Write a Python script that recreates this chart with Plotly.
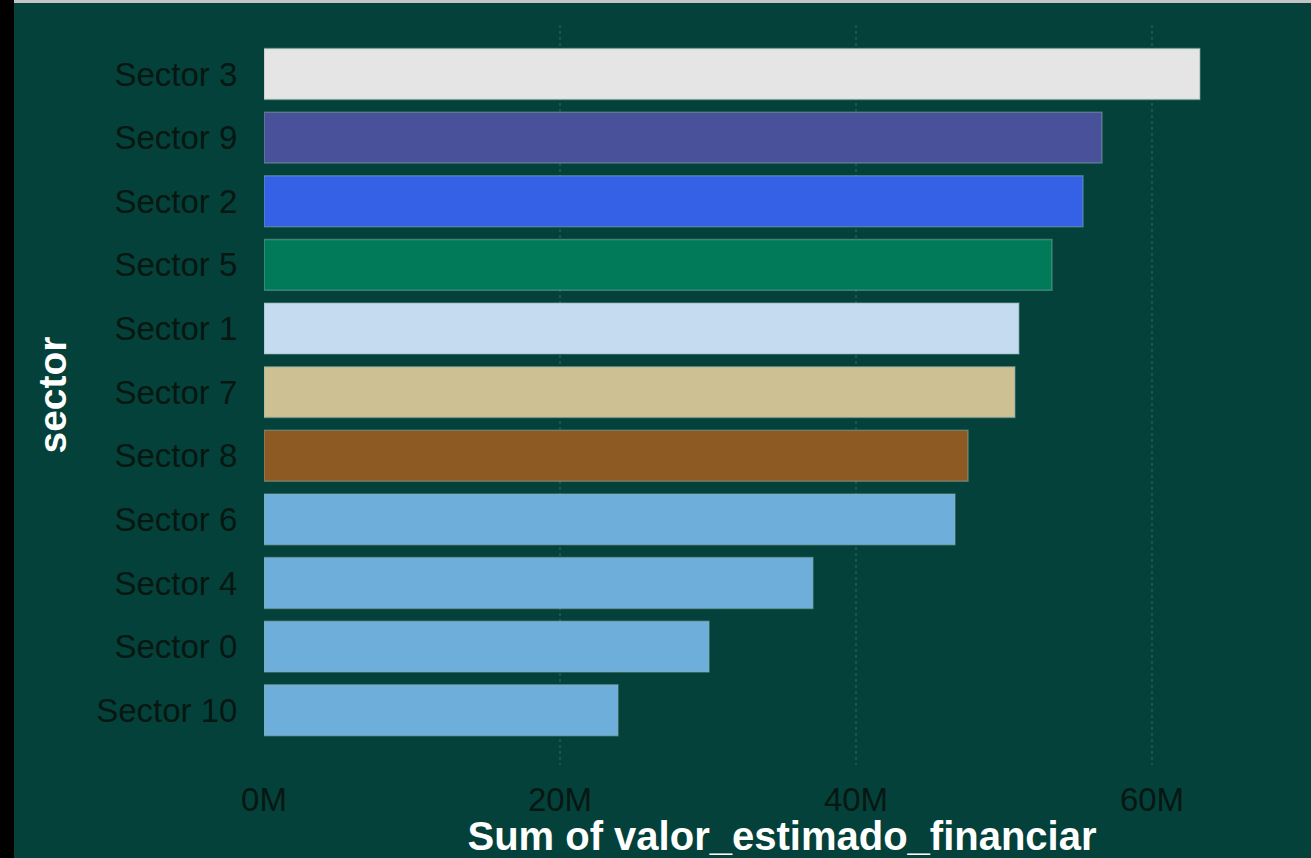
import plotly.graph_objects as go

sectors = ["Sector 10", "Sector 0", "Sector 4", "Sector 6", "Sector 8", "Sector 7",
           "Sector 1", "Sector 5", "Sector 2", "Sector 9", "Sector 3"]
values = [23.92e6, 30.07e6, 37.09e6, 46.69e6, 47.57e6, 50.74e6,
          51.01e6, 53.24e6, 55.34e6, 56.62e6, 63.24e6]
colors = ["#6eaedb", "#6eaedb", "#6eaedb", "#6eaedb", "#8e5a24", "#cdc093",
          "#c4dbf0", "#007a58", "#3461e6", "#48519a", "#e5e5e5"]
x_ticks = [0, 20e6, 40e6, 60e6]
x_tick_labels = ["0M", "20M", "40M", "60M"]

BG = "#04413a"
W, H = 1311, 858
L, R, T, B = 264, 11, 25, 93
pw, ph = W - L - R, H - T - B

fig = go.Figure(go.Bar(
    x=values, y=sectors, orientation="h",
    marker=dict(color=colors, line=dict(color="rgba(140,175,170,0.45)", width=1.5)),
))

fig.update_layout(
    width=W, height=H,
    margin=dict(l=L, r=R, t=T, b=B, autoexpand=False),
    paper_bgcolor=BG, plot_bgcolor=BG,
    bargap=0.2,
    showlegend=False,
    font=dict(family="Liberation Sans, Arial, sans-serif", color="#061712", size=33),
    xaxis=dict(
        range=[0, 70e6], tickvals=x_ticks, ticktext=x_tick_labels,
        showgrid=True, gridcolor="#1a5650", griddash="dot", gridwidth=2,
        zeroline=False, showline=False, ticks="outside", ticklen=5, tickcolor=BG,
        automargin=False,
        tickfont=dict(size=33, color="#061712"),
        title=dict(text="<b>Sum of valor_estimado_financiar</b>", standoff=10,
                   font=dict(size=40, color="white", family="Liberation Sans, Arial, sans-serif")),
    ),
    yaxis=dict(
        categoryorder="array", categoryarray=sectors,
        range=[-0.86, 10.77],
        showgrid=False, zeroline=False, showline=False,
        ticks="outside", ticklen=19, tickcolor=BG, automargin=False,
        tickfont=dict(size=33, color="#061712"),
        title=dict(text="<b>sector</b>", standoff=17,
                   font=dict(size=39, color="white", family="Liberation Sans, Arial, sans-serif")),
    ),
    shapes=[
        dict(type="rect", xref="paper", yref="paper",
             x0=-L / pw, x1=(14 - L) / pw, y0=-B / ph, y1=1 + T / ph,
             fillcolor="black", line=dict(width=0), layer="above"),
        dict(type="rect", xref="paper", yref="paper",
             x0=(14 - L) / pw, x1=1 + R / pw, y0=1 + (T - 3) / ph, y1=1 + T / ph,
             fillcolor="#c4c4c4", line=dict(width=0), layer="above"),
    ],
)

fig.write_html("out.html", config={"displayModeBar": False},
               post_script="document.body.style.margin='0';document.body.style.padding='0';")
